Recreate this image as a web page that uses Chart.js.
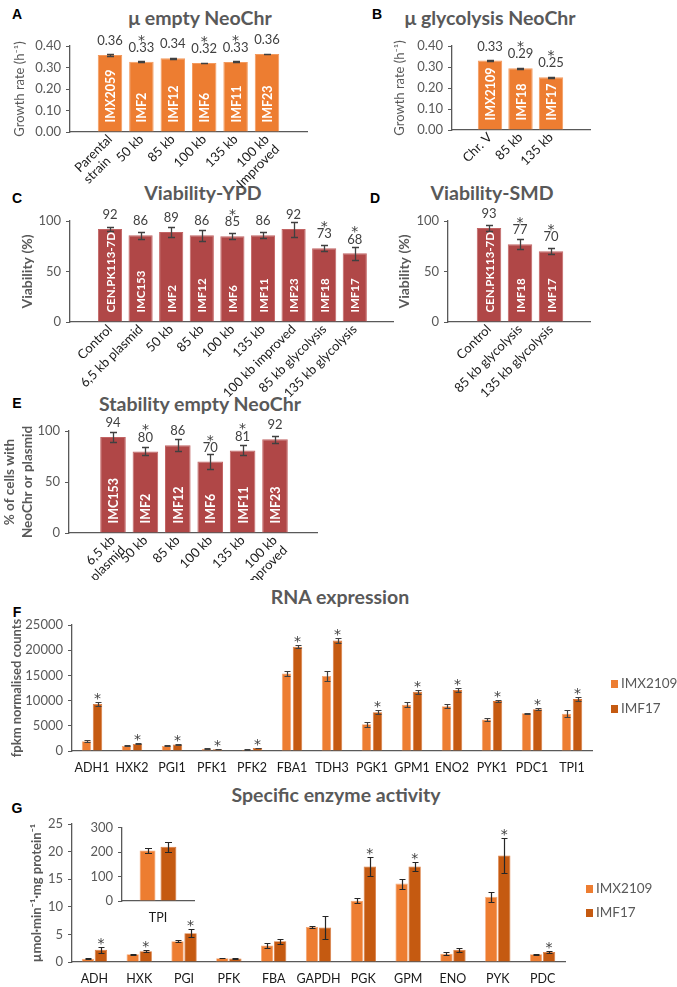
<!DOCTYPE html>
<html>
<head>
<meta charset="utf-8">
<script src="https://cdn.jsdelivr.net/npm/chart.js@4.4.0/dist/chart.umd.min.js"></script>
<style>
body { margin: 0; background: #fff; }
#page { position: relative; width: 677px; height: 987px; overflow: hidden; }
canvas { position: absolute; }
.title { position: absolute; transform: translate(-50%, -50%); font: bold 19.5px Lato, sans-serif; color: #595959; white-space: nowrap; }
.letter { position: absolute; transform: translate(-50%, -50%); font: bold 14px 'Liberation Sans', Arial, sans-serif; color: #000; }
</style>
</head>
<body>
<div id="page">
  <div class="letter" style="left:17px;top:14px">A</div>
  <div class="title" style="left:200px;top:17px">μ empty NeoChr</div>
  <div class="letter" style="left:377px;top:14px">B</div>
  <div class="title" style="left:490px;top:17px">μ glycolysis NeoChr</div>
  <div class="letter" style="left:17px;top:198px">C</div>
  <div class="title" style="left:203px;top:192px">Viability-YPD</div>
  <div class="letter" style="left:375px;top:198px">D</div>
  <div class="title" style="left:492px;top:192px">Viability-SMD</div>
  <div class="letter" style="left:17px;top:403px">E</div>
  <div class="title" style="left:200px;top:403px">Stability empty NeoChr</div>
  <div class="letter" style="left:17px;top:612px">F</div>
  <div class="title" style="left:340px;top:596px">RNA expression</div>
  <div class="letter" style="left:17px;top:808px">G</div>
  <div class="title" style="left:336px;top:794px">Specific enzyme activity</div>

  <canvas id="chartA" width="330" height="190" style="left:0;top:0"></canvas>
  <canvas id="chartB" width="230" height="190" style="left:380px;top:0"></canvas>
  <canvas id="chartE" width="340" height="200" style="left:0;top:380px"></canvas>
  <canvas id="chartC" width="410" height="245" style="left:0;top:160px"></canvas>
  <canvas id="chartD" width="230" height="245" style="left:380px;top:160px"></canvas>
  <canvas id="chartF" width="677" height="180" style="left:0;top:600px"></canvas>
  <canvas id="chartG" width="677" height="187" style="left:0;top:800px"></canvas>
  <canvas id="chartTPI" width="125" height="115" style="left:80px;top:815px"></canvas>
</div>
<script>
// A - growth rate, empty neochromosomes
let muEmptyCats = [['Parental', 'strain'], '50 kb', '85 kb', '100 kb', '135 kb', ['100 kb', 'Improved']]
let muEmptyStrains = ['IMX2059', 'IMF2', 'IMF12', 'IMF6', 'IMF11', 'IMF23']
let muEmptyVals = [0.358, 0.327, 0.343, 0.321, 0.326, 0.363]
let muEmptyErr = [0.003, 0.003, 0.003, 0.002, 0.002, 0.002]
let muEmptyStar = [false, true, false, true, true, false]

// B - growth rate, glycolysis neochromosomes
let muGlyCats = ['Chr. V', '85 kb', '135 kb']
let muGlyStrains = ['IMX2109', 'IMF18', 'IMF17']
let muGlyVals = [0.331, 0.294, 0.251]
let muGlyErr = [0.002, 0.002, 0.002]
let muGlyStar = [false, true, true]

// C - viability YPD
let ypdCats = ['Control', '6,5 kb plasmid', '50 kb', '85 kb', '100 kb', '135 kb', '100 kb improved', '85 kb glycolysis', '135 kb glycolysis']
let ypdStrains = ['CEN.PK113-7D', 'IMC153', 'IMF2', 'IMF12', 'IMF6', 'IMF11', 'IMF23', 'IMF18', 'IMF17']
let ypdVals = [92, 86, 89, 86, 85, 86, 92, 73, 68]
let ypdErr = [2, 3.5, 5, 5.5, 3, 3, 7.5, 3, 6.5]
let ypdStar = [false, false, false, false, true, false, false, true, true]

// D - viability SMD
let smdCats = ['Control', '85 kb glycolysis', '135 kb glycolysis']
let smdStrains = ['CEN.PK113-7D', 'IMF18', 'IMF17']
let smdVals = [93, 77, 70]
let smdErr = [3, 5, 3]
let smdStar = [false, true, true]

// E - stability
let stabCats = [['6,5 kb', 'plasmid'], '50 kb', '85 kb', '100 kb', '135 kb', ['100 kb', 'Improved']]
let stabStrains = ['IMC153', 'IMF2', 'IMF12', 'IMF6', 'IMF11', 'IMF23']
let stabVals = [94, 80, 86, 70, 81, 92]
let stabErr = [5, 4, 6, 7.5, 5, 3.5]
let stabStar = [false, true, false, true, true, false]

// F - RNA expression
let genes = ['ADH1', 'HXK2', 'PGI1', 'PFK1', 'PFK2', 'FBA1', 'TDH3', 'PGK1', 'GPM1', 'ENO2', 'PYK1', 'PDC1', 'TPI1']
let rnaRef = [1950, 1000, 1000, 450, 250, 15400, 14900, 5300, 9200, 8900, 6250, 7500, 7400]
let rnaRefErr = [150, 100, 100, 50, 50, 450, 950, 550, 450, 350, 300, 100, 750]
let rnaEvo = [9350, 1400, 1300, 350, 600, 20700, 21900, 7700, 11750, 12100, 9900, 8300, 10300]
let rnaEvoErr = [400, 100, 100, 50, 80, 250, 550, 450, 400, 330, 120, 250, 330]
let rnaStar = [true, true, true, true, true, true, true, true, true, true, true, true, true]

// G - enzyme activity
let enzymes = ['ADH', 'HXK', 'PGI', 'PFK', 'FBA', 'GAPDH', 'PGK', 'GPM', 'ENO', 'PYK', 'PDC']
let actRef = [0.6, 1.4, 3.75, 0.7, 3.0, 6.35, 11.1, 14.2, 1.5, 11.8, 1.4]
let actRefErr = [0.05, 0.05, 0.15, 0.05, 0.45, 0.25, 0.45, 0.9, 0.3, 0.9, 0.05]
let actEvo = [2.2, 1.95, 5.2, 0.65, 3.75, 6.25, 17.3, 17.3, 2.2, 19.3, 1.8]
let actEvoErr = [0.5, 0.2, 0.7, 0.05, 0.4, 2.1, 1.7, 0.75, 0.4, 3.2, 0.2]
let actStar = [true, true, true, false, false, false, true, true, false, true, true]
let tpiCats = ['TPI']
let tpiRef = [207]
let tpiRefErr = [12]
let tpiEvo = [222]
let tpiEvoErr = [20]

let refName = 'IMX2109'
let evoName = 'IMF17'

Chart.defaults.font.family = "Lato, 'Noto Sans', sans-serif"
Chart.defaults.color = '#595959'

let orange = '#ED7D31'
let darkOrange = '#C55A11'
let red = '#B04747'
let catFont = "13px Lato, 'Noto Sans', sans-serif"

let valueOf = function (raw) {
    return (raw !== null && typeof raw === 'object') ? raw.y : raw
}

// a shorter second line starts where the first line starts, like the spreadsheet does
let measureCtx = document.createElement('canvas').getContext('2d')
let alignLines = function (label) {
    if (!Array.isArray(label)) return label
    measureCtx.font = catFont
    let first = measureCtx.measureText(label[0]).width
    let pad = measureCtx.measureText('\u00A0').width
    return label.map(function (l, i) {
        let w = measureCtx.measureText(l).width
        if (i === 0 || w >= first) return l
        return l + '\u00A0'.repeat(Math.round((first - w) / pad))
    })
}

// error bars drawn through the y scale
let errorBars = {
    id: 'errorBars',
    afterDatasetsDraw(chart, args, opts) {
        let ctx = chart.ctx
        let y = chart.scales.y
        chart.data.datasets.forEach(function (ds, di) {
            if (!ds.errors) return
            chart.getDatasetMeta(di).data.forEach(function (bar, i) {
                let v = valueOf(ds.data[i])
                let e = ds.errors[i]
                let x = Math.round(bar.x) + 0.5
                let y1 = Math.round(y.getPixelForValue(v + e)) + 0.5
                let y2 = Math.round(y.getPixelForValue(v - e)) + 0.5
                ctx.save()
                ctx.strokeStyle = opts.color
                ctx.lineWidth = opts.width
                ctx.beginPath()
                ctx.moveTo(x, y1); ctx.lineTo(x, y2)
                ctx.moveTo(x - opts.cap, y1); ctx.lineTo(x + opts.cap, y1)
                ctx.moveTo(x - opts.cap, y2); ctx.lineTo(x + opts.cap, y2)
                ctx.stroke()
                ctx.restore()
            })
        })
    }
}

// strain names inside bars, value labels and significance stars
let barMarks = {
    id: 'barMarks',
    afterDatasetsDraw(chart, args, opts) {
        let ctx = chart.ctx
        let y = chart.scales.y
        chart.data.datasets.forEach(function (ds, di) {
            chart.getDatasetMeta(di).data.forEach(function (bar, i) {
                let v = valueOf(ds.data[i])
                ctx.save()
                ctx.textAlign = 'center'
                ctx.textBaseline = 'middle'
                if (ds.inside) {
                    ctx.save()
                    ctx.translate(bar.x, bar.base - 9)
                    ctx.rotate(-Math.PI / 2)
                    ctx.textAlign = 'left'
                    ctx.fillStyle = '#fff'
                    ctx.font = 'bold ' + (opts.insideSize || 12) + 'px Lato, sans-serif'
                    ctx.fillText(ds.inside[i], 0, 1)
                    ctx.restore()
                }
                ctx.fillStyle = '#404040'
                let starBase = null
                if (opts.format) {
                    ctx.font = "13px Lato, sans-serif"
                    ctx.fillText(opts.format(v), bar.x, bar.y - 14)
                    starBase = bar.y - 17
                }
                if (opts.starAt === 'error' && ds.errors) {
                    starBase = y.getPixelForValue(v + ds.errors[i]) + 1
                }
                if (ds.stars && ds.stars[i] && starBase !== null) {
                    ctx.font = "14px 'DejaVu Sans', sans-serif"
                    ctx.textBaseline = 'alphabetic'
                    ctx.fillText('*', bar.x, starBase)
                }
                ctx.restore()
            })
        })
    }
}

let sideLegend = {
    id: 'sideLegend',
    afterDraw(chart, args, opts) {
        let ctx = chart.ctx
        chart.data.datasets.forEach(function (ds, i) {
            let yy = opts.y + i * opts.gap
            ctx.save()
            ctx.fillStyle = ds.backgroundColor
            ctx.fillRect(opts.x, yy - 4, 7, 8)
            ctx.fillStyle = '#595959'
            ctx.font = "13.5px Lato, sans-serif"
            ctx.textAlign = 'left'
            ctx.textBaseline = 'middle'
            ctx.fillText(ds.label, opts.x + 10, yy)
            ctx.restore()
        })
    }
}

let strainChart = function (id, c) {
    return new Chart(document.getElementById(id), {
        type: 'bar',
        data: {
            datasets: [{
                data: c.values.map(function (v, i) { return {x: i, y: v} }),
                errors: c.errors,
                stars: c.stars,
                inside: c.strains,
                backgroundColor: c.color,
                borderColor: c.edge,
                borderWidth: 1,
                categoryPercentage: 1,
                barPercentage: c.barPct
            }]
        },
        options: {
            responsive: false,
            animation: false,
            layout: {padding: c.padding},
            plugins: {
                legend: {display: false},
                tooltip: {enabled: false},
                errorBars: {color: '#404040', width: 1.3, cap: 3.5},
                barMarks: {format: c.format, insideSize: c.insideSize}
            },
            scales: {
                x: {
                    type: 'linear',
                    offset: false,
                    min: c.xMin,
                    max: c.xMax,
                    afterBuildTicks: function (s) { s.ticks = c.cats.map(function (n, i) { return {value: i} }) },
                    afterFit: function (s) { s.height = c.xHeight },
                    grid: {display: false, drawTicks: false},
                    border: {color: '#595959', width: 1.3},
                    ticks: {
                        callback: function (v) { return alignLines(c.cats[v]) },
                        minRotation: 45, maxRotation: 45, autoSkip: false,
                        color: '#1a1a1a', font: {size: 13, lineHeight: 1.1}, padding: 0
                    }
                },
                y: {
                    min: 0,
                    max: c.yMax,
                    afterFit: function (s) { s.width = c.yWidth },
                    grid: {drawOnChartArea: false, tickLength: 4, color: '#595959'},
                    border: {color: '#595959', width: 1.3},
                    ticks: {stepSize: c.step, callback: c.tickFmt, color: '#595959', font: {size: 13}, padding: 5},
                    title: {
                        display: true, text: c.yTitle, color: '#595959',
                        font: c.yFont, padding: {top: c.yTitlePad, bottom: 0}
                    }
                }
            }
        },
        plugins: [errorBars, barMarks]
    })
}

let fixed2 = function (v) { return v.toFixed(2) }
let whole = function (v) { return String(Math.round(v)) }

strainChart('chartA', {
    cats: muEmptyCats, strains: muEmptyStrains, values: muEmptyVals, errors: muEmptyErr, stars: muEmptyStar,
    color: orange, edge: '#F39A5E', barPct: 0.78, insideSize: 12.5,
    padding: {top: 46, right: 23}, xMin: -1.274, xMax: 6.274, xHeight: 58, yWidth: 70,
    yMax: 0.4, step: 0.1, tickFmt: fixed2, format: fixed2,
    yTitle: 'Growth rate (h⁻¹)', yFont: {size: 13}, yTitlePad: 12
})

strainChart('chartB', {
    cats: muGlyCats, strains: muGlyStrains, values: muGlyVals, errors: muGlyErr, stars: muGlyStar,
    color: orange, edge: '#F39A5E', barPct: 0.8, insideSize: 12.5,
    padding: {top: 46, right: 20}, xMin: -1.246, xMax: 3.279, xHeight: 60, yWidth: 72,
    yMax: 0.4, step: 0.1, tickFmt: fixed2, format: fixed2,
    yTitle: 'Growth rate (h⁻¹)', yFont: {size: 13}, yTitlePad: 12
})

strainChart('chartC', {
    cats: ypdCats, strains: ypdStrains, values: ypdVals, errors: ypdErr, stars: ypdStar,
    color: red, edge: '#C26464', barPct: 0.79, insideSize: 11.5,
    padding: {top: 61, right: 17}, xMin: -1.307, xMax: 9.249, xHeight: 83, yWidth: 70,
    yMax: 100, step: 50, tickFmt: whole, format: whole,
    yTitle: 'Viability (%)', yFont: {size: 14, weight: 'bold'}, yTitlePad: 19
})

strainChart('chartD', {
    cats: smdCats, strains: smdStrains, values: smdVals, errors: smdErr, stars: smdStar,
    color: red, edge: '#C26464', barPct: 0.79, insideSize: 11.5,
    padding: {top: 61, right: 20}, xMin: -1.323, xMax: 3.258, xHeight: 83, yWidth: 68,
    yMax: 100, step: 50, tickFmt: whole, format: whole,
    yTitle: 'Viability (%)', yFont: {size: 14, weight: 'bold'}, yTitlePad: 16
})

strainChart('chartE', {
    cats: stabCats, strains: stabStrains, values: stabVals, errors: stabErr, stars: stabStar,
    color: red, edge: '#C26464', barPct: 0.79, insideSize: 12.5,
    padding: {top: 51, right: 23}, xMin: -1.358, xMax: 6.296, xHeight: 47, yWidth: 69,
    yMax: 100, step: 50, tickFmt: whole, format: whole,
    yTitle: ['% of cells with', 'NeoChr or plasmid'], yFont: {size: 13.5, weight: 'bold', lineHeight: 1.3}, yTitlePad: 1
})

let groupChart = function (id, c) {
    return new Chart(document.getElementById(id), {
        type: 'bar',
        data: {
            labels: c.cats,
            datasets: [
                {label: refName, data: c.ref, errors: c.refErr, backgroundColor: orange, borderColor: '#F5A673', borderWidth: c.edgeW},
                {label: evoName, data: c.evo, errors: c.evoErr, stars: c.stars, backgroundColor: darkOrange, borderColor: '#D9773A', borderWidth: c.edgeW}
            ]
        },
        options: {
            responsive: false,
            animation: false,
            layout: {padding: c.padding},
            datasets: {bar: {categoryPercentage: c.catPct, barPercentage: c.barPct}},
            plugins: {
                legend: {display: false},
                tooltip: {enabled: false},
                errorBars: {color: c.errColor, width: 1.2, cap: c.cap},
                barMarks: {starAt: 'error'},
                sideLegend: c.legend
            },
            scales: {
                x: {
                    afterFit: function (s) { s.height = c.xHeight },
                    grid: {display: false, drawTicks: false},
                    border: {color: '#595959', width: 1.3},
                    ticks: {color: '#1a1a1a', font: {size: 12.5}, padding: c.xPad, autoSkip: false, maxRotation: 0}
                },
                y: {
                    min: 0,
                    max: c.yMax,
                    afterFit: function (s) { s.width = c.yWidth },
                    grid: {drawOnChartArea: false, tickLength: 4, color: '#595959'},
                    border: {color: '#595959', width: 1.3},
                    ticks: {stepSize: c.step, callback: function (v) { return String(v) }, color: '#595959', font: {size: 13}, padding: 5},
                    title: {
                        display: !!c.yTitle, text: c.yTitle, color: '#595959',
                        font: c.yFont, padding: {top: c.yTitlePad, bottom: 0}
                    }
                }
            }
        },
        plugins: c.legend ? [errorBars, barMarks, sideLegend] : [errorBars, barMarks]
    })
}

groupChart('chartF', {
    cats: genes, ref: rnaRef, refErr: rnaRefErr, evo: rnaEvo, evoErr: rnaEvoErr, stars: rnaStar,
    padding: {top: 25, right: 85}, xHeight: 29, yWidth: 72, xPad: 9,
    catPct: 0.55, barPct: 0.86, edgeW: 0.8, cap: 3, errColor: '#404040',
    yMax: 25000, step: 5000,
    yTitle: 'fpkm normalised counts', yFont: {size: 13, weight: 'bold'}, yTitlePad: 9,
    legend: {x: 611, y: 84, gap: 25}
})

groupChart('chartG', {
    cats: enzymes, ref: actRef, refErr: actRefErr, evo: actEvo, evoErr: actEvoErr, stars: actStar,
    padding: {top: 24, right: 112}, xHeight: 25, yWidth: 72, xPad: 9,
    catPct: 0.58, barPct: 0.95, edgeW: 0.8, cap: 3, errColor: '#262626',
    yMax: 25, step: 5,
    yTitle: 'µmol·min⁻¹·mg protein⁻¹', yFont: {size: 13, weight: 'bold'}, yTitlePad: 29,
    legend: {x: 586, y: 89, gap: 24}
})

groupChart('chartTPI', {
    cats: tpiCats, ref: tpiRef, refErr: tpiRefErr, evo: tpiEvo, evoErr: tpiEvoErr, stars: null,
    padding: {top: 11, right: 11}, xHeight: 29, yWidth: 42, xPad: 9,
    catPct: 0.58, barPct: 0.76, edgeW: 0.8, cap: 3.5, errColor: '#262626',
    yMax: 300, step: 100,
    yTitle: null, yFont: {size: 12}, yTitlePad: 0,
    legend: null
})
</script>
</body>
</html>
